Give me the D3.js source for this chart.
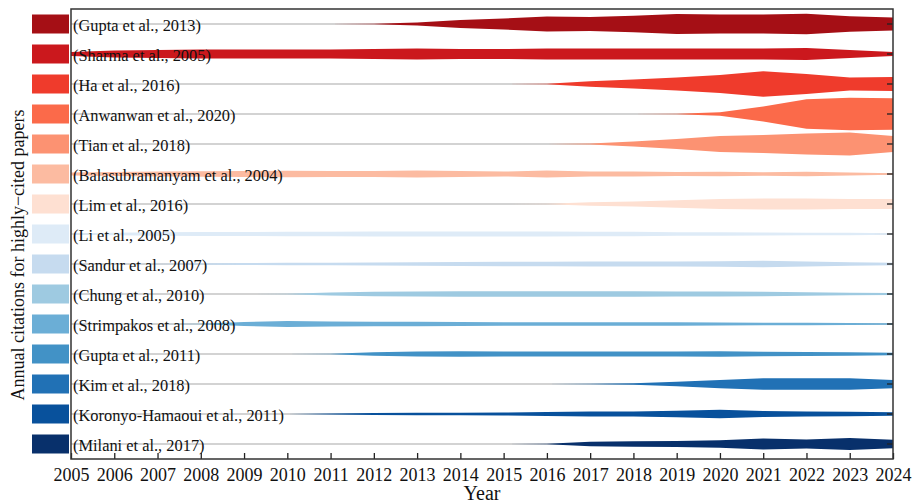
<!DOCTYPE html>
<html>
<head>
<meta charset="utf-8">
<script src="https://cdn.jsdelivr.net/npm/d3@7"></script>
<style>
  body { margin: 0; background: #fff; }
  svg { display: block; }
  text { font-family: "Liberation Serif", "Times New Roman", serif; fill: #111; }
</style>
</head>
<body>
<div id="chart"></div>
<script>
// years on the x axis
let years = d3.range(2005, 2025);

// papers, top to bottom
let papers = [
    "(Gupta et al., 2013)",
    "(Sharma et al., 2005)",
    "(Ha et al., 2016)",
    "(Anwanwan et al., 2020)",
    "(Tian et al., 2018)",
    "(Balasubramanyam et al., 2004)",
    "(Lim et al., 2016)",
    "(Li et al., 2005)",
    "(Sandur et al., 2007)",
    "(Chung et al., 2010)",
    "(Strimpakos et al., 2008)",
    "(Gupta et al., 2011)",
    "(Kim et al., 2018)",
    "(Koronyo-Hamaoui et al., 2011)",
    "(Milani et al., 2017)"
];

let colors = [
    "#a50f15", "#cb181d", "#ef3b2c", "#fb6a4a", "#fc9272", "#fcbba1", "#fee0d2",
    "#deebf7", "#c6dbef", "#9ecae1", "#6baed6", "#4292c6", "#2171b5", "#08519c", "#08306b"
];

// annual citations, 2005..2024
let gupta2013   = [0, 0, 0, 0, 0, 0, 0, 1, 9, 24, 33, 45, 42, 50, 60, 57, 57, 62, 47, 39];
let sharma      = [12, 21, 24, 27, 27, 27, 28, 31, 34, 30, 30, 33, 33, 33, 33, 33, 33, 36, 24, 12];
let ha          = [0, 0, 0, 0, 0, 0, 0, 0, 0, 0, 0, 2, 17, 27, 39, 54, 78, 60, 39, 42];
let anwanwan    = [0, 0, 0, 0, 0, 0, 0, 0, 0, 0, 0, 0, 0, 0, 1, 11, 45, 90, 99, 96];
let tian        = [0, 0, 0, 0, 0, 0, 0, 0, 0, 0, 0, 0, 3, 15, 30, 48, 54, 63, 69, 48];
let bala        = [9, 12, 15, 17, 18, 20, 18, 18, 21, 18, 15, 21, 15, 15, 12, 14, 11, 14, 9, 5];
let lim         = [0, 0, 0, 0, 0, 0, 0, 0, 0, 0, 0, 2, 10, 15, 23, 30, 33, 33, 30, 30];
let li          = [3, 8, 10, 12, 12, 13, 13, 15, 15, 15, 15, 15, 13, 13, 11, 10, 9, 8, 7, 5];
let sandur      = [0, 0, 2, 5, 6, 8, 8, 9, 11, 12, 13, 14, 15, 15, 15, 17, 20, 15, 11, 7];
let chung       = [0, 0, 0, 0, 0, 2, 9, 14, 15, 16, 16, 17, 17, 17, 15, 15, 13, 10, 8, 6];
let strimpakos  = [0, 0, 0, 2, 12, 18, 15, 14, 14, 12, 10, 11, 11, 11, 10, 9, 8, 8, 6, 4];
let gupta2011   = [0, 0, 0, 0, 0, 0, 2, 11, 15, 17, 15, 15, 15, 15, 15, 17, 13, 12, 10, 8];
let kim         = [0, 0, 0, 0, 0, 0, 0, 0, 0, 0, 0, 0, 1, 5, 14, 25, 35, 35, 35, 25];
let koronyo     = [0, 0, 0, 0, 0, 0, 3, 6, 7, 8, 9, 12, 15, 15, 19, 26, 18, 15, 13, 11];
let milani      = [0, 0, 0, 0, 0, 0, 0, 0, 0, 0, 0, 1, 13, 16, 18, 22, 34, 28, 36, 26];

let series = [gupta2013, sharma, ha, anwanwan, tian, bala, lim, li, sandur,
              chung, strimpakos, gupta2011, kim, koronyo, milani];

let width = 915;
let height = 504;
let margin = { top: 9, right: 22, bottom: 45, left: 71 };

let svg = d3.select("#chart")
    .append("svg")
    .attr("width", width)
    .attr("height", height);

let x = d3.scaleLinear()
    .domain([2005, 2024])
    .range([margin.left, width - margin.right]);

let y = d3.scaleBand()
    .domain(papers)
    .range([margin.top, height - margin.bottom]);

// full band thickness for a citation count
let thick = d3.scaleLinear().domain([0, 100]).range([0, 33]);

function rowCenter(p) { return y(p) + y.bandwidth() / 2; }

// grey baselines
svg.append("g")
    .selectAll("line")
    .data(papers)
    .enter()
    .append("line")
    .attr("x1", x(2005))
    .attr("x2", x(2024))
    .attr("y1", d => rowCenter(d))
    .attr("y2", d => rowCenter(d))
    .attr("stroke", "#c4c4c4")
    .attr("stroke-width", 1.5);

// bands
let area = d3.area()
    .x(d => x(d.year))
    .y0(d => d.c - thick(d.v) / 2)
    .y1(d => d.c + thick(d.v) / 2)
    .curve(d3.curveLinear);

svg.append("g")
    .selectAll("path")
    .data(papers)
    .enter()
    .append("path")
    .attr("fill", (d, i) => colors[i])
    .attr("d", (d, i) => {
        let c = rowCenter(d);
        return area(years.map((yr, j) => ({ year: yr, v: series[i][j], c: c })));
    });

// labels
svg.append("g")
    .selectAll("text")
    .data(papers)
    .enter()
    .append("text")
    .attr("x", x(2005) + 2)
    .attr("y", d => rowCenter(d) + 6.5)
    .style("font-size", "16.4px")
    .text(d => d);

// legend swatches
svg.append("g")
    .selectAll("rect")
    .data(papers)
    .enter()
    .append("rect")
    .attr("x", 32)
    .attr("y", d => rowCenter(d) - 9.5)
    .attr("width", 37)
    .attr("height", 19)
    .attr("fill", (d, i) => colors[i]);

// x axis, ticks pointing inward
let xAxis = svg.append("g")
    .attr("transform", "translate(0," + (height - margin.bottom) + ")")
    .call(d3.axisBottom(x)
        .tickValues(years)
        .tickFormat(d3.format("d"))
        .tickSizeInner(-6)
        .tickSizeOuter(0)
        .tickPadding(9));
xAxis.select(".domain").remove();
xAxis.selectAll("line").attr("stroke", "#222").attr("stroke-width", 1.3);
xAxis.selectAll("text").style("font-size", "18px").style("font-family", "Liberation Serif, serif").attr("fill", "#111");

// right axis ticks
let rAxis = svg.append("g")
    .attr("transform", "translate(" + x(2024) + ",0)")
    .call(d3.axisLeft(y).tickSize(6).tickFormat(""));
rAxis.select(".domain").remove();
rAxis.selectAll("line").attr("stroke", "#222").attr("stroke-width", 1.3);

// frame
svg.append("rect")
    .attr("x", x(2005))
    .attr("y", margin.top)
    .attr("width", x(2024) - x(2005))
    .attr("height", height - margin.bottom - margin.top)
    .attr("fill", "none")
    .attr("stroke", "#333")
    .attr("stroke-width", 1.5);

// axis titles
svg.append("text")
    .attr("x", (x(2005) + x(2024)) / 2)
    .attr("y", 500)
    .attr("text-anchor", "middle")
    .style("font-size", "20px")
    .text("Year");

svg.append("text")
    .attr("transform", "translate(24,255) rotate(-90)")
    .attr("text-anchor", "middle")
    .style("font-size", "18px")
    .text("Annual citations for highly\u2212cited papers");
</script>
</body>
</html>
